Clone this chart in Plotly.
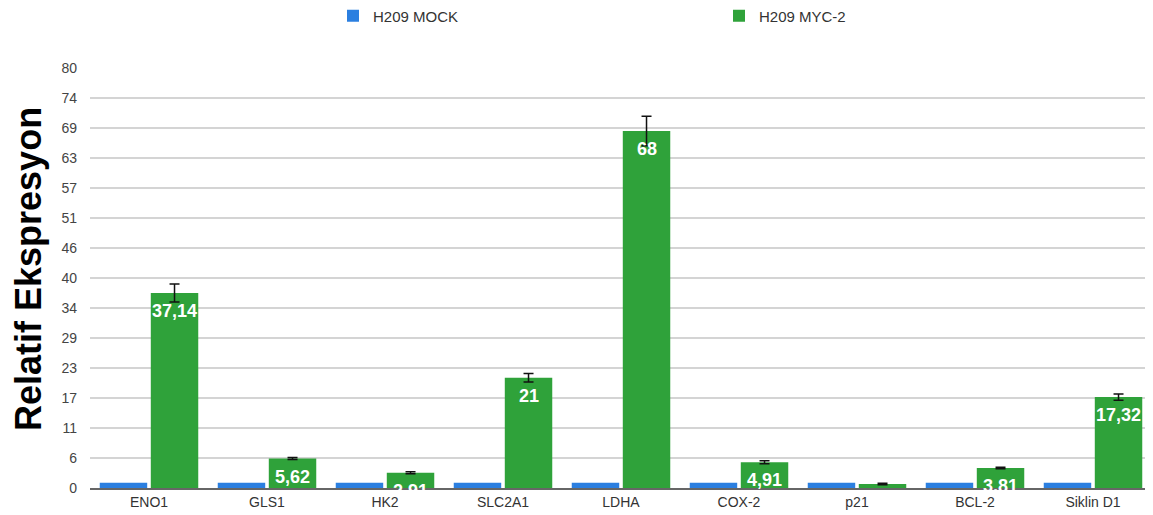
import plotly.graph_objects as go

categories = ["ENO1", "GLS1", "HK2", "SLC2A1", "LDHA", "COX-2", "p21", "BCL-2", "Siklin D1"]
mock_values = [1, 1, 1, 1, 1, 1, 1, 1, 1]
myc_values = [37.14, 5.62, 2.91, 21, 68, 4.91, 0.77, 3.81, 17.32]
myc_errors = [1.7, 0.2, 0.2, 0.8, 2.8, 0.3, 0.15, 0.15, 0.6]
myc_labels = ["37,14", "5,62", "2,91", "21", "68", "4,91", "", "3,81", "17,32"]
tick_labels = ["0", "6", "11", "17", "23", "29", "34", "40", "46", "51", "57", "63", "69", "74", "80"]
y_max = 80

tick_vals = [i * y_max / (len(tick_labels) - 1) for i in range(len(tick_labels))]

W, H = 1145, 507
fig = go.Figure()
fig.add_trace(go.Bar(
    name="H209 MOCK", x=categories, y=mock_values,
    marker=dict(color="#2b7fe0", line=dict(width=0)),
))
fig.add_trace(go.Bar(
    name="H209 MYC-2", x=categories, y=myc_values,
    marker=dict(color="#2fa23a", line=dict(width=0)),
    error_y=dict(type="data", array=myc_errors, color="#111111", thickness=1.5, width=5),
))

for cat, val, lab in zip(categories, myc_values, myc_labels):
    if lab:
        fig.add_annotation(
            x=cat, y=val, text=lab, showarrow=False,
            xshift=25.5, yshift=-6, yanchor="top", xanchor="center",
            font=dict(family="Liberation Sans, Arial", size=18, color="white", weight="bold"),
        )

fig.update_layout(
    width=W, height=H,
    margin=dict(l=82, r=1, t=60, b=27),
    paper_bgcolor="white", plot_bgcolor="white",
    barmode="group", bargap=0.135, bargroupgap=0.07,
    font=dict(family="Liberation Sans, Arial", color="#333333"),
    legend=dict(
        orientation="h", xref="container", yref="container",
        x=325 / W, xanchor="left", y=1 - 8 / H, yanchor="middle",
        entrywidth=341, entrywidthmode="pixels",
        font=dict(size=15, color="#333333"),
    ),
    showlegend=True,
)
fig.update_yaxes(
    range=[0, y_max], tickvals=tick_vals, ticktext=tick_labels,
    showgrid=True, gridcolor="#d4d4d4", gridwidth=2,
    zeroline=False, showline=False, ticks="", ticklabelstandoff=12,
    tickfont=dict(size=14, color="#444444"),
)
fig.update_xaxes(
    showline=True, linecolor="#666666", linewidth=2,
    ticks="", tickfont=dict(size=14, color="#333333"),
)
fig.add_annotation(
    text="<b>Relatif Ekspresyon</b>", textangle=-90,
    xref="paper", yref="paper", x=(20 - 82) / 1062, y=(480 - 261) / 420,
    xanchor="center", yanchor="middle", showarrow=False,
    font=dict(size=36, color="#000000", family="Liberation Sans, Arial"),
)

fig.write_html("out.html")
